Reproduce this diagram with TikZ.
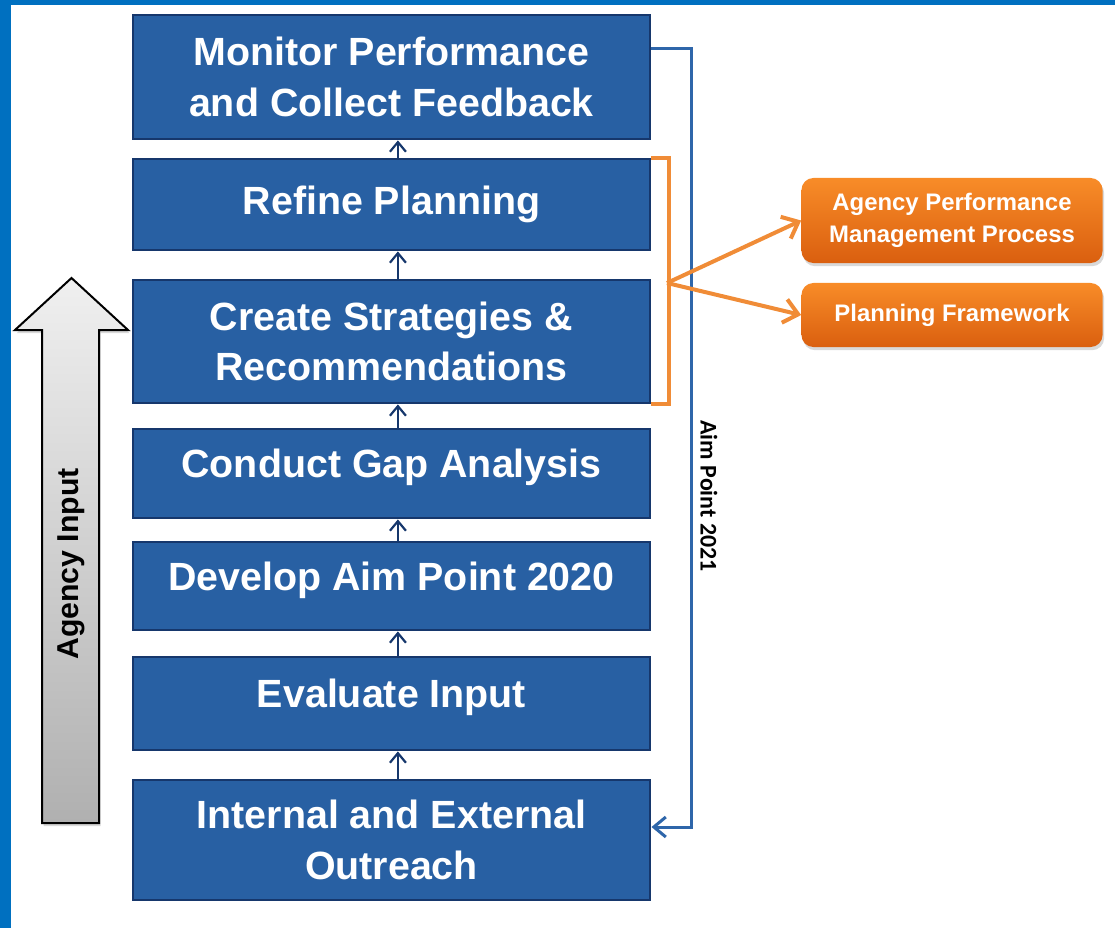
\documentclass[tikz,border=0pt]{standalone}
\usepackage{fontspec}
\setmainfont{Liberation Sans}
\newfontfamily\aimfont{Carlito}
\usetikzlibrary{arrows.meta,shadows}

\definecolor{framebl}{RGB}{0,112,192}
\definecolor{stagefill}{RGB}{40,96,163}
\definecolor{stageedge}{RGB}{22,55,108}
\definecolor{fbblue}{RGB}{46,102,170}
\definecolor{brorange}{RGB}{240,140,55}
\definecolor{ortop}{RGB}{248,140,40}
\definecolor{orbot}{RGB}{218,95,15}

\tikzset{
  stage/.style={rectangle,draw=stageedge,fill=stagefill,line width=0.07cm,
    minimum width=12.925cm,text=white,align=center,
    font=\bfseries\fontsize{28}{36}\selectfont},
  oneline/.style={text depth=14pt},
  stepar/.style={draw=stageedge,line width=0.055cm,-{Straight Barb[length=0.24cm,width=0.4cm]}},
  fbline/.style={draw=fbblue,line width=0.075cm,-{Straight Barb[length=0.3cm,width=0.5cm]}},
  orbox/.style={rectangle,rounded corners=0.3cm,top color=ortop,bottom color=orbot,
    draw=none,minimum width=7.525cm,text=white,align=center,
    font=\bfseries\fontsize{17}{23}\selectfont,
    drop shadow={shadow xshift=0.04cm,shadow yshift=-0.08cm,opacity=0.3}},
  bracket/.style={draw=brorange,line width=0.1cm},
  orar/.style={draw=brorange,line width=0.1cm,-{Straight Barb[length=0.35cm,width=0.6cm]}}
}

\begin{document}
\begin{tikzpicture}[x=0.025cm,y=-0.025cm]
    \useasboundingbox (0,0) rectangle (1115,928);
    % blue frame
    \fill[framebl] (0,0) rectangle (11,928);
    \fill[framebl] (0,0) rectangle (1115,5);

    % process steps
    \node[stage,minimum height=3.1cm] (mon) at (391.5,77) {Monitor Performance\\and Collect Feedback};
    \node[stage,minimum height=2.275cm] (ref) at (391.5,204.5) {Refine Planning};
    \node[stage,minimum height=3.075cm] (cre) at (391.5,341.5) {Create Strategies \&\\Recommendations};
    \node[stage,oneline,minimum height=2.225cm] (gap) at (391.5,473.5) {Conduct Gap Analysis};
    \node[stage,oneline,minimum height=2.2cm] (dev) at (391.5,586) {Develop Aim Point 2020};
    \node[stage,oneline,minimum height=2.325cm] (eva) at (391.5,703.5) {Evaluate Input};
    \node[stage,minimum height=3.0cm] (out) at (391.5,840) {Internal and External\\Outreach};

    % arrows between steps
    \draw[stepar] ([xshift=0.16cm]out.north) -- ([xshift=0.16cm]eva.south);
    \draw[stepar] ([xshift=0.16cm]eva.north) -- ([xshift=0.16cm]dev.south);
    \draw[stepar] ([xshift=0.16cm]dev.north) -- ([xshift=0.16cm]gap.south);
    \draw[stepar] ([xshift=0.16cm]gap.north) -- ([xshift=0.16cm]cre.south);
    \draw[stepar] ([xshift=0.16cm]cre.north) -- ([xshift=0.16cm]ref.south);
    \draw[stepar] ([xshift=0.16cm]ref.north) -- ([xshift=0.16cm]mon.south);

    % feedback loop
    \draw[fbline] ([yshift=0.7cm]mon.east) -- ++(1.0cm,0) |- ([yshift=0.325cm]out.east);
    \node[rotate=-90,font=\aimfont\bfseries\fontsize{17}{20}\selectfont] (aim) at (709,496) {Aim Point 2021};

    % agency input arrow
    \shade[top color=gray!12,bottom color=gray!62,draw=black,line width=0.05cm,
      drop shadow={shadow xshift=0.04cm,shadow yshift=-0.08cm,opacity=0.3}]
      (42,823) -- (42,330) -- (15,330) -- (71.5,278) -- (128,330) -- (99,330) -- (99,823) -- cycle;
    \node[rotate=90,font=\bfseries\fontsize{21.5}{24}\selectfont] (agin) at (71,564) {Agency Input};

    % outputs
    \node[orbox,minimum height=2.125cm] (apm) at (952,220.5) {Agency Performance\\Management Process};
    \node[orbox,minimum height=1.6cm] (pf) at (952,315) {Planning Framework};

    % bracket
    \draw[bracket] (ref.north east) -- ++(0.45cm,0) |- (cre.south east);
    \coordinate (bm) at (667,283);
    \draw[orar] (bm) -- (apm.west);
    \draw[orar] (bm) -- (pf.west);

\end{tikzpicture}
\end{document}
